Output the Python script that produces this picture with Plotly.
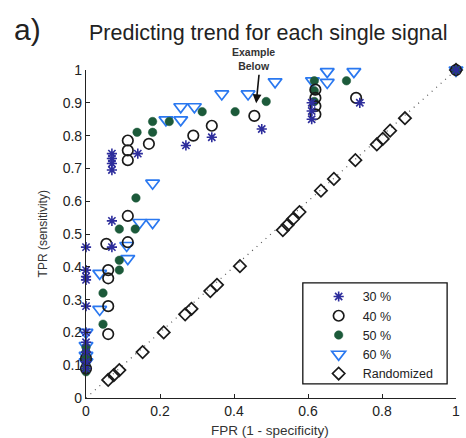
import plotly.graph_objects as go

# FPR / TPR pairs for each signal threshold
fpr_30 = [0, 0, 0, 0, 0, 0, 0, 0, 0, 0, 0.07, 0.07, 0.07, 0.07, 0.07, 0.07,
          0.14, 0.27, 0.34, 0.475, 0.61, 0.61, 0.61, 0.74, 1.0]
tpr_30 = [0.46, 0.39, 0.37, 0.36, 0.28, 0.2, 0.17, 0.14, 0.11, 0.09, 0.54, 0.46,
          0.745, 0.73, 0.715, 0.695, 0.745, 0.77, 0.795, 0.82, 0.9, 0.875, 0.85, 0.9, 1.0]

fpr_40 = [0, 0, 0.055, 0.06, 0.06, 0.06, 0.06, 0.113, 0.113, 0.113, 0.113, 0.113,
          0.17, 0.29, 0.34, 0.455, 0.62, 0.62, 0.62, 0.62, 0.73, 1.0]
tpr_40 = [0.09, 0.12, 0.47, 0.39, 0.365, 0.28, 0.195, 0.555, 0.475, 0.785, 0.755, 0.725,
          0.775, 0.80, 0.83, 0.86, 0.94, 0.915, 0.89, 0.865, 0.915, 1.0]

fpr_50 = [0, 0, 0, 0, 0, 0.046, 0.046, 0.09, 0.09, 0.09, 0.133, 0.135, 0.138,
          0.18, 0.18, 0.225, 0.314, 0.403, 0.487, 0.617, 0.617, 0.617, 0.704, 1.0]
tpr_50 = [0.08, 0.1, 0.12, 0.14, 0.155, 0.225, 0.32, 0.39, 0.42, 0.515, 0.515, 0.61, 0.81,
          0.81, 0.843, 0.843, 0.873, 0.873, 0.904, 0.904, 0.937, 0.967, 0.967, 1.0]

fpr_60 = [0, 0, 0, 0, 0.037, 0.037, 0.11, 0.113, 0.145, 0.18, 0.18, 0.216, 0.256,
          0.256, 0.293, 0.367, 0.438, 0.511, 0.612, 0.652, 0.652, 0.724, 1.0]
tpr_60 = [0.2, 0.16, 0.13, 0.11, 0.38, 0.27, 0.465, 0.425, 0.535, 0.535, 0.655, 0.848, 0.848,
          0.888, 0.888, 0.927, 0.927, 0.964, 0.967, 0.962, 0.995, 0.995, 1.0]

fpr_rand = [0.06, 0.075, 0.09, 0.153, 0.21, 0.268, 0.285, 0.336, 0.354, 0.416, 0.532,
            0.545, 0.559, 0.577, 0.635, 0.67, 0.728, 0.786, 0.802, 0.822, 0.862, 1.0]
tpr_rand = [0.055, 0.07, 0.085, 0.14, 0.2, 0.255, 0.272, 0.326, 0.345, 0.402, 0.512,
            0.528, 0.545, 0.567, 0.632, 0.668, 0.725, 0.773, 0.79, 0.815, 0.853, 1.0]

chance_x = [0, 1]
chance_y = [0, 1]

x_ticks = [0, 0.2, 0.4, 0.6, 0.8, 1]
x_tick_text = ["0", "0.2", "0.4", "0.6", "0.8", "1"]
y_ticks = [0, 0.1, 0.2, 0.3, 0.4, 0.5, 0.6, 0.7, 0.8, 0.9, 1]
y_tick_text = ["0", "0.1", "0.2", "0.3", "0.4", "0.5", "0.6", "0.7", "0.8", "0.9", "1"]

FONT = "Liberation Sans, Arial, sans-serif"

fig = go.Figure()

# chance diagonal
fig.add_trace(go.Scatter(
    x=chance_x, y=chance_y, mode="lines", showlegend=False, hoverinfo="skip",
    line=dict(color="#555555", width=1.2, dash="1px,5px"),
))

fig.add_trace(go.Scatter(
    x=fpr_rand, y=tpr_rand, mode="markers", name="Randomized",
    marker=dict(symbol="diamond-open", size=9.5, color="#1a1a1a",
                line=dict(width=1.7, color="#1a1a1a")),
    cliponaxis=False,
))
fig.add_trace(go.Scatter(
    x=fpr_60, y=tpr_60, mode="markers", name="60 %",
    marker=dict(symbol="triangle-down-open", size=12, color="#2a78f0",
                line=dict(width=1.7, color="#2a78f0")),
    cliponaxis=False,
))
fig.add_trace(go.Scatter(
    x=fpr_50, y=tpr_50, mode="markers", name="50 %",
    marker=dict(symbol="circle", size=8.5, color="#1c5a3a",
                line=dict(width=0.5, color="#1c5a3a")),
    cliponaxis=False,
))
fig.add_trace(go.Scatter(
    x=fpr_40, y=tpr_40, mode="markers", name="40 %",
    marker=dict(symbol="circle-open", size=10.5, color="#1a1a1a",
                line=dict(width=1.7, color="#1a1a1a")),
    cliponaxis=False,
))
fig.add_trace(go.Scatter(
    x=fpr_30, y=tpr_30, mode="markers", name="30 %",
    marker=dict(symbol="asterisk-open", size=8.5, color="#2d2d9c",
                line=dict(width=1.6, color="#2d2d9c")),
    cliponaxis=False,
))

# legend frame
fig.add_shape(type="rect", xref="paper", yref="paper",
              x0=0.586, x1=0.976, y0=0.043, y1=0.351,
              line=dict(color="#111111", width=1.3), fillcolor="white", layer="below")

annotations = [
    dict(text="a)", x=-0.158, y=1.125, xref="paper", yref="paper",
         xanchor="center", yanchor="middle",
         showarrow=False, font=dict(size=30, color="#222222", family=FONT)),
    dict(text="Predicting trend for each single signal", x=0.492, y=1.113,
         xref="paper", yref="paper", xanchor="center", yanchor="middle", showarrow=False,
         font=dict(size=21.5, color="#222222", family=FONT)),
    dict(text="TPR (sensitivity)", x=-0.115, y=0.5, xref="paper", yref="paper",
         xanchor="center", yanchor="middle",
         textangle=-90, showarrow=False, font=dict(size=12, color="#333333", family=FONT)),
    dict(text="FPR (1 - specificity)", x=0.496, y=-0.0976, xref="paper", yref="paper",
         xanchor="center", yanchor="middle",
         showarrow=False, font=dict(size=13.5, color="#333333", family=FONT)),
    dict(text="<b>Example<br>Below</b>", x=0.452, y=1.035, xref="paper", yref="paper",
         xanchor="center", yanchor="middle",
         showarrow=False, font=dict(size=10.5, color="#333333", family=FONT)),
    dict(text="", x=0.46, y=0.899, ax=0.468, ay=0.99, xref="x", yref="y",
         axref="x", ayref="y", showarrow=True, arrowhead=2, arrowsize=1.1,
         arrowwidth=1.6, arrowcolor="#111111"),
]

fig.update_layout(
    width=466, height=438,
    margin=dict(l=86, r=6, t=70, b=40),
    paper_bgcolor="white", plot_bgcolor="white",
    font=dict(family=FONT, size=12, color="#222222"),
    showlegend=True,
    legend=dict(
        x=0.618, y=0.354, xanchor="left", yanchor="top",
        bgcolor="rgba(0,0,0,0)", borderwidth=0,
        traceorder="reversed", itemwidth=38,
        font=dict(size=12.5, color="#222222", family=FONT),
        itemclick=False,
    ),
    annotations=annotations,
)

fig.update_xaxes(
    range=[0, 1], tickvals=x_ticks, ticktext=x_tick_text,
    showgrid=False, zeroline=False, showline=True, linecolor="#222222", linewidth=1.2,
    ticks="inside", ticklen=4, tickcolor="#222222",
    tickfont=dict(size=14, color="#222222"),
)
fig.update_yaxes(
    range=[0, 1], tickvals=y_ticks, ticktext=y_tick_text,
    showgrid=False, zeroline=False, showline=True, linecolor="#222222", linewidth=1.2,
    ticks="inside", ticklen=4, tickcolor="#222222",
    tickfont=dict(size=14, color="#222222"),
)

fig.write_html("out.html")
